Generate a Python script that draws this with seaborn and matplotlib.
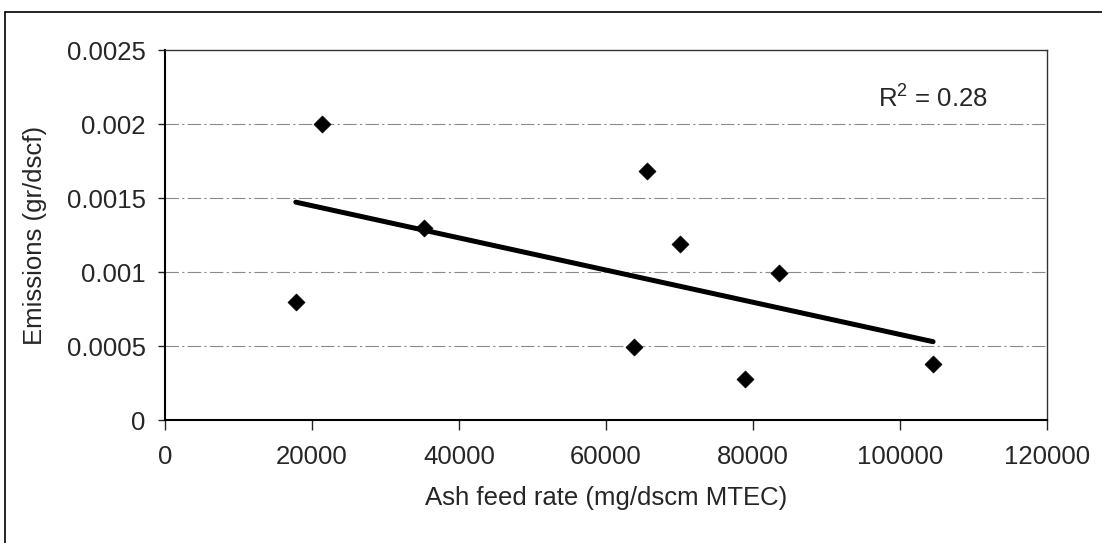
import numpy as np
import pandas as pd
import matplotlib
matplotlib.use("Agg")
import matplotlib.pyplot as plt
import seaborn as sns

# ----------- Data -----------
ash_feed = [17800, 21400, 35200, 63800, 65600, 70000, 78900, 83500, 104500]
emissions = [0.0008, 0.0020, 0.0013, 0.00049, 0.00168, 0.00119, 0.00028, 0.00099, 0.00038]
x_ticks = [0, 20000, 40000, 60000, 80000, 100000, 120000]
y_ticks = [0, 0.0005, 0.001, 0.0015, 0.002, 0.0025]
y_tick_labels = ["0", "0.0005", "0.001", "0.0015", "0.002", "0.0025"]
r2_label = r"R$^2$ = 0.28"

df = pd.DataFrame({"ash": ash_feed, "emis": emissions})

# ----------- Style -----------
sns.set_style("ticks")
plt.rcParams["font.family"] = ["Liberation Sans", "DejaVu Sans"]
plt.rcParams["mathtext.fontset"] = "custom"
plt.rcParams["mathtext.rm"] = "Liberation Sans"
plt.rcParams["mathtext.default"] = "regular"

fig = plt.figure(figsize=(11.02, 5.43), dpi=100)
ax = fig.add_axes([165 / 1102, 1 - 420 / 543, (1047 - 165) / 1102, (420 - 50) / 543])

# ----------- Grid -----------
for yv in y_ticks[1:-1]:
    ax.axhline(yv, color="#8a8a8a", lw=0.8, ls=(0, (12, 3, 2, 3)), zorder=0)

# ----------- Trend line + points -----------
sns.regplot(data=df, x="ash", y="emis", scatter=False, ci=None, truncate=True,
            color="black", line_kws={"lw": 3.6, "solid_capstyle": "round"}, ax=ax)
sns.scatterplot(data=df, x="ash", y="emis", marker="D", s=75, color="black",
                edgecolor="black", linewidth=0.5, zorder=3, ax=ax)

# ----------- Axes -----------
ax.set_xlim(0, 120000)
ax.set_ylim(0, 0.0025)
ax.set_xticks(x_ticks)
ax.set_xticklabels([str(v) for v in x_ticks])
ax.set_yticks(y_ticks)
ax.set_yticklabels(y_tick_labels)
ax.tick_params(axis="x", length=7, width=1, pad=11, labelsize=18.5, direction="out")
ax.tick_params(axis="y", length=5, width=1, pad=9, labelsize=18.5, direction="out")
ax.set_xlabel("Ash feed rate (mg/dscm MTEC)", fontsize=18.5, labelpad=12)
ax.set_ylabel("Emissions (gr/dscf)", fontsize=18.5, labelpad=14)
for side in ["left", "bottom"]:
    ax.spines[side].set_linewidth(1.5)
    ax.spines[side].set_color("black")
for side in ["top", "right"]:
    ax.spines[side].set_visible(True)
    ax.spines[side].set_linewidth(1.0)
    ax.spines[side].set_color("#333333")

ax.text(0.933, 0.868, r2_label, transform=ax.transAxes, fontsize=18.5,
        ha="right", va="center")

# ----------- Outer frame (only left and top edges show) -----------
fig.add_artist(plt.Line2D([5 / 1102, 5 / 1102], [0, 1 - 12 / 543],
                          transform=fig.transFigure, color="black", lw=1.2))
fig.add_artist(plt.Line2D([5 / 1102, 1], [1 - 12 / 543, 1 - 12 / 543],
                          transform=fig.transFigure, color="black", lw=1.2))

fig.savefig("out.png", dpi=100)
plt.close(fig)
